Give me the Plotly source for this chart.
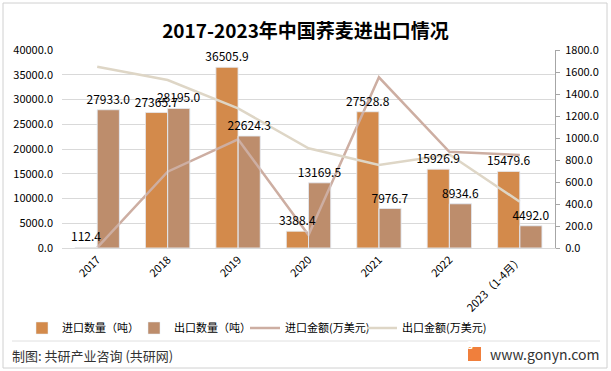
import plotly.graph_objects as go

categories = ["2017", "2018", "2019", "2020", "2021", "2022", "2023（1-4月）"]
import_qty = [112.4, 27365.7, 36505.9, 3388.4, 27528.8, 15926.9, 15479.6]
export_qty = [27933.0, 28195.0, 22624.3, 13169.5, 7976.7, 8934.6, 4492.0]
import_amt = [3, 694, 988, 118, 1552, 875, 845]
export_amt = [1648, 1527, 1270, 906, 755, 850, 421]

C_IMP = "#D38A4B"
C_EXP = "#BD8D6C"
C_IMPL = "#CDAEA2"
C_EXPL = "#DED6C6"
FONT = "Noto Sans CJK SC"

W, H = 611, 371
L, R, T, B = 62, 56, 50, 123
PW, PH = W - L - R, H - T - B


def px(x):
    return (x - L) / PW


def py(y):
    return (H - B - y) / PH


fig = go.Figure()
fig.add_trace(go.Bar(x=categories, y=import_qty, name="进口数量（吨）", marker_color=C_IMP,
                     legend="legend"))
fig.add_trace(go.Bar(x=categories, y=export_qty, name="出口数量（吨）", marker_color=C_EXP,
                     legend="legend2"))
fig.add_trace(go.Scatter(x=categories, y=import_amt, name="进口金额(万美元)", mode="lines",
                         line=dict(color=C_IMPL, width=2.5), yaxis="y2", legend="legend3"))
fig.add_trace(go.Scatter(x=categories, y=export_amt, name="出口金额(万美元)", mode="lines",
                         line=dict(color=C_EXPL, width=2.5), yaxis="y2", legend="legend4"))
# value labels drawn on top of all bars (transparent copies on an overlaid axis pair)
for vals in (import_qty, export_qty):
    fig.add_trace(go.Bar(x=categories, y=vals, xaxis="x2", yaxis="y3", showlegend=False,
                         marker_color="rgba(0,0,0,0)", hoverinfo="skip",
                         text=[f"{v:.1f}" for v in vals], textposition="outside",
                         constraintext="none", cliponaxis=False,
                         textfont=dict(size=12, color="#000")))


def leg(x):
    return dict(orientation="h", xref="paper", yref="paper",
                x=px(x), xanchor="left", y=py(328), yanchor="middle",
                font=dict(size=11, family=FONT), itemwidth=30,
                bgcolor="rgba(0,0,0,0)")


fig.update_layout(
    width=W, height=H,
    margin=dict(l=L, r=R, t=T, b=B, autoexpand=False),
    paper_bgcolor="white", plot_bgcolor="white",
    font=dict(family=FONT, size=11, color="#000"),
    title=dict(text="<b>2017-2023年中国荞麦进出口情况</b>", x=0.5, xanchor="center",
               xref="container", yref="container",
               y=1 - 31 / H, yanchor="middle", font=dict(size=19, color="#000", family=FONT)),
    barmode="group", bargap=0.37, bargroupgap=0,
    showlegend=True,
    legend=leg(22), legend2=leg(134), legend3=leg(245), legend4=leg(362),
    xaxis=dict(tickangle=-45, showline=True, linecolor="#D9D9D9", ticks="",
               tickfont=dict(size=11), showgrid=False, automargin=False),
    xaxis2=dict(overlaying="x", matches="x", visible=False),
    yaxis=dict(range=[0, 40000], dtick=5000, tickformat=".1f", gridcolor="#D9D9D9",
               showline=False, zeroline=False, tickfont=dict(size=11), automargin=False,
               ticklabelstandoff=8),
    yaxis2=dict(range=[0, 1800], dtick=200, tickformat=".1f", overlaying="y", side="right",
                showgrid=False, showline=True, linecolor="#A6A6A6", ticks="outside",
                ticklen=4, tickcolor="#A6A6A6", zeroline=False, tickfont=dict(size=11),
                automargin=False, ticklabelstandoff=3),
    yaxis3=dict(range=[0, 40000], overlaying="y", visible=False),
)

fig.add_shape(type="rect", xref="paper", yref="paper", x0=px(3), x1=px(607),
              y0=py(368), y1=py(3), line=dict(color="#D0D0D0", width=1))
fig.add_shape(type="line", xref="paper", yref="paper", x0=px(12), x1=px(600),
              y0=py(341), y1=py(341), line=dict(color="#E0E0E0", width=1))
fig.add_annotation(text="制图: 共研产业咨询 (共研网)", xref="paper", yref="paper",
                   x=px(10), y=py(355), xanchor="left", yanchor="middle",
                   showarrow=False, font=dict(size=13, color="#333", family=FONT))
fig.add_annotation(text="www.gonyn.com", xref="paper", yref="paper",
                   x=px(601), y=py(354), xanchor="right", yanchor="middle",
                   showarrow=False, font=dict(size=14, color="#333", family=FONT))
fig.add_shape(type="rect", xref="paper", yref="paper", x0=px(468), x1=px(481),
              y0=py(361), y1=py(347), fillcolor="#F07F3C", line=dict(width=0))
fig.add_annotation(text="<b>G</b>", xref="paper", yref="paper", x=px(474.5), y=py(354),
                   showarrow=False, font=dict(size=10, color="white"))

fig.write_html("out.html", post_script="document.body.style.margin='0';",
               config={"displayModeBar": False})
